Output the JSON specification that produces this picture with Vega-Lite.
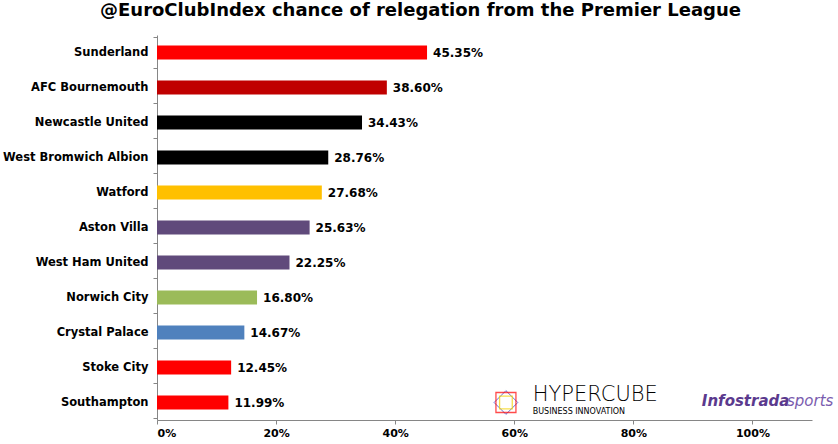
{
  "$schema": "https://vega.github.io/schema/vega-lite/v6.json",
  "autosize": {"type": "none"},
  "padding": {"left": 157, "top": 35, "right": 26, "bottom": 24},
  "width": 655,
  "height": 385,
  "background": "white",
  "title": {
    "text": "@EuroClubIndex chance of relegation from the Premier League",
    "font": "DejaVu Sans",
    "fontSize": 18,
    "fontWeight": "bold",
    "color": "black",
    "anchor": "middle",
    "frame": "group",
    "dx": -64,
    "offset": 9
  },
  "config": {
    "view": {"stroke": null},
    "axis": {"domainColor": "#868686", "tickColor": "#868686", "grid": false, "labelFont": "DejaVu Sans", "labelFontWeight": "bold", "labelColor": "black", "labelFontSize": 11, "title": null}
  },
  "layer": [
    {
      "data": {
        "values": [
          {"team": "Sunderland", "p": 0.4535, "c": "#FF0000"},
          {"team": "AFC Bournemouth", "p": 0.386, "c": "#C00000"},
          {"team": "Newcastle United", "p": 0.3443, "c": "#000000"},
          {"team": "West Bromwich Albion", "p": 0.2876, "c": "#000000"},
          {"team": "Watford", "p": 0.2768, "c": "#FFC000"},
          {"team": "Aston Villa", "p": 0.2563, "c": "#604A7B"},
          {"team": "West Ham United", "p": 0.2225, "c": "#604A7B"},
          {"team": "Norwich City", "p": 0.168, "c": "#9BBB59"},
          {"team": "Crystal Palace", "p": 0.1467, "c": "#4F81BD"},
          {"team": "Stoke City", "p": 0.1245, "c": "#FF0000"},
          {"team": "Southampton", "p": 0.1199, "c": "#FF0000"}
        ]
      },
      "encoding": {
        "y": {"field": "team", "type": "nominal", "sort": null,
          "axis": {"tickBand": "extent", "tickSize": 4, "labelPadding": 5, "labelFontSize": 11.5}},
        "x": {"field": "p", "type": "quantitative", "scale": {"domain": [0, 1.1], "nice": false},
          "axis": {"values": [0, 0.2, 0.4, 0.6, 0.8, 1.0], "format": ".0%", "tickSize": 4, "labelPadding": 3}}
      },
      "layer": [
        {"mark": {"type": "bar", "size": 14}, "encoding": {"color": {"field": "c", "type": "nominal", "scale": null}}},
        {"mark": {"type": "text", "align": "left", "dx": 6, "font": "DejaVu Sans", "fontWeight": "bold", "fontSize": 12, "color": "black"},
          "encoding": {"text": {"field": "p", "type": "quantitative", "format": ".2%"}}}
      ]
    },
    {
      "data": {"values": [{"t": "HYPERCUBE", "s": "BUSINESS  INNOVATION", "i": "Infostrada", "sp": "sports"}]},
      "encoding": {"y": {"datum": "Southampton", "type": "nominal"}},
      "layer": [
        {"mark": {"type": "point", "shape": "diamond", "size": 560, "filled": false, "stroke": "#2233CC", "strokeWidth": 1, "dy": -2},
          "encoding": {"x": {"datum": 0.586, "type": "quantitative"}}},
        {"mark": {"type": "point", "shape": "square", "size": 400, "filled": false, "stroke": "#FF0000", "strokeWidth": 1.3},
          "encoding": {"x": {"datum": 0.586, "type": "quantitative"}}},
        {"mark": {"type": "point", "shape": "square", "size": 160, "filled": false, "stroke": "#F5D400", "strokeWidth": 1.3},
          "encoding": {"x": {"datum": 0.586, "type": "quantitative"}}},
        {"mark": {"type": "text", "align": "left", "baseline": "alphabetic", "dy": -1.5, "font": "DejaVu Sans", "fontWeight": 300, "fontSize": 21, "color": "black"},
          "encoding": {"text": {"field": "t"}, "x": {"datum": 0.631, "type": "quantitative"}}},
        {"mark": {"type": "text", "align": "left", "baseline": "alphabetic", "dy": 11.5, "font": "DejaVu Sans", "fontSize": 8, "color": "black"},
          "encoding": {"text": {"field": "s"}, "x": {"datum": 0.631, "type": "quantitative"}}},
        {"mark": {"type": "text", "align": "left", "baseline": "alphabetic", "dy": 3, "font": "DejaVu Sans", "fontWeight": "bold", "fontStyle": "italic", "fontSize": 15, "color": "#5B3A8E"},
          "encoding": {"text": {"field": "i"}, "x": {"datum": 0.915, "type": "quantitative"}}},
        {"mark": {"type": "text", "align": "left", "baseline": "alphabetic", "dy": 3, "font": "DejaVu Sans", "fontStyle": "italic", "fontSize": 15, "color": "#7A5CAE"},
          "encoding": {"text": {"field": "sp"}, "x": {"datum": 1.058, "type": "quantitative"}}}
      ]
    }
  ]
}
